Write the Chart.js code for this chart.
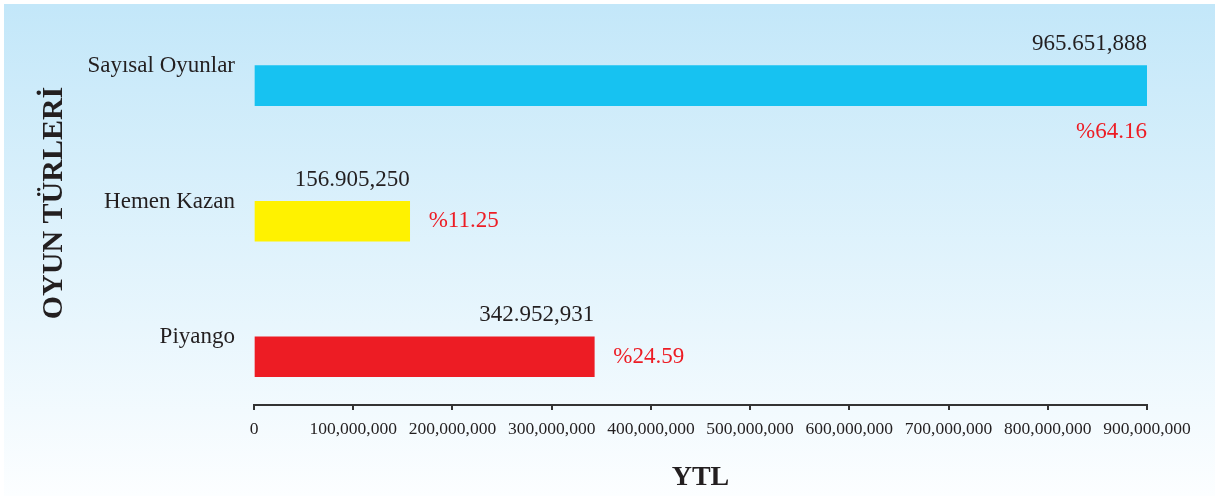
<!DOCTYPE html>
<html>
<head>
<meta charset="utf-8">
<script src="https://cdn.jsdelivr.net/npm/chart.js@4/dist/chart.umd.min.js"></script>
<style>
  html, body { margin: 0; padding: 0; background: #ffffff; }
  canvas { display: block; }
</style>
</head>
<body>
<canvas id="c" width="1215" height="496"></canvas>
<script>
// ---- data ----
const categories = ['Sayısal Oyunlar', 'Hemen Kazan', 'Piyango'];
const values = [965651888, 156905250, 342952931];
const valueLabels = ['965.651,888', '156.905,250', '342.952,931'];
const percentLabels = ['%64.16', '%11.25', '%24.59'];
const barColors = ['#17c2f1', '#fff200', '#ed1c24'];
const xTickValues = [0, 100000000, 200000000, 300000000, 400000000, 500000000, 600000000, 700000000, 800000000, 900000000];
const xTickLabels = ['0', '100,000,000', '200,000,000', '300,000,000', '400,000,000', '500,000,000', '600,000,000', '700,000,000', '800,000,000', '900,000,000'];
const yTitle = 'OYUN TÜRLERİ';
const xTitle = 'YTL';

const SERIF = "'Liberation Serif', 'Times New Roman', serif";
const TEXT = '#231f20';

const bgPlugin = {
  id: 'bg',
  beforeDraw(chart) {
    const ctx = chart.ctx;
    ctx.save();
    ctx.fillStyle = '#ffffff';
    ctx.fillRect(0, 0, chart.width, chart.height);
    const g = ctx.createLinearGradient(0, 4, 0, chart.height);
    g.addColorStop(0, '#c3e7f9');
    g.addColorStop(1, '#fcfeff');
    ctx.fillStyle = g;
    ctx.fillRect(4, 4, chart.width - 4, chart.height - 4);
    ctx.restore();
  }
};

const labelPlugin = {
  id: 'barLabels',
  afterDatasetsDraw(chart, args, opts) {
    const ctx = chart.ctx;
    const meta = chart.getDatasetMeta(0);
    const area = chart.chartArea;
    ctx.save();
    meta.data.forEach((bar, i) => {
      const end = Math.min(bar.x, area.right);
      const top = bar.y - bar.height / 2;
      const bottom = bar.y + bar.height / 2;
      ctx.font = '23px ' + SERIF;
      ctx.textBaseline = 'alphabetic';
      ctx.fillStyle = TEXT;
      ctx.textAlign = 'right';
      ctx.fillText(valueLabels[i], end, top - 15.5);
      ctx.fillStyle = '#ed1c24';
      if (opts.pctPlacement[i] === 'below') {
        ctx.textAlign = 'right';
        ctx.fillText(percentLabels[i], end, bottom + 32);
      } else {
        ctx.textAlign = 'left';
        ctx.fillText(percentLabels[i], end + 19, bar.y + 6);
      }
    });
    ctx.restore();
  }
};

new Chart(document.getElementById('c'), {
  type: 'bar',
  data: {
    labels: categories,
    datasets: [{
      data: values.map((v, i) => ({ x: v, y: i })),
      backgroundColor: barColors,
      borderWidth: 0,
      barThickness: 40,
      clip: 0
    }]
  },
  options: {
    responsive: false,
    animation: false,
    devicePixelRatio: 1,
    indexAxis: 'y',
    layout: { padding: { left: 0, top: 1, right: 68, bottom: 0 } },
    plugins: {
      legend: { display: false },
      tooltip: { enabled: false },
      barLabels: { pctPlacement: ['below', 'right', 'right'] }
    },
    scales: {
      x: {
        type: 'linear',
        position: 'bottom',
        min: 0,
        max: 900000000,
        offset: false,
        afterBuildTicks: (s) => { s.ticks = xTickValues.map(v => ({ value: v })); },
        afterFit: (s) => { s.height = 91; },
        border: { display: true, color: '#333333', width: 2 },
        grid: { drawOnChartArea: false, drawTicks: true, tickLength: 5, color: '#333333', lineWidth: 2, offset: false },
        ticks: {
          padding: 9,
          maxRotation: 0,
          autoSkip: false,
          color: TEXT,
          font: { family: SERIF, size: 17.5 },
          callback: (v, i) => xTickLabels[i]
        },
        title: {
          display: true,
          text: xTitle,
          color: TEXT,
          font: { family: SERIF, size: 28, weight: 'bold' },
          padding: { top: 0, bottom: 1 }
        }
      },
      y: {
        type: 'linear',
        reverse: true,
        offset: false,
        min: -0.625,
        max: 2.356,
        afterBuildTicks: (s) => { s.ticks = categories.map((c, i) => ({ value: i })); },
        afterFit: (s) => { s.width = 254; s.paddingTop = 0; s.paddingBottom = 0; },
        border: { display: false },
        grid: { display: false, drawTicks: false, offset: false },
        ticks: {
          padding: 19,
          labelOffset: -19.5,
          autoSkip: false,
          color: TEXT,
          font: { family: SERIF, size: 23 },
          callback: (v) => categories[v]
        },
        title: {
          display: true,
          text: yTitle,
          color: TEXT,
          font: { family: SERIF, size: 30, weight: 'bold' },
          padding: { top: 36, bottom: 0 }
        }
      }
    }
  },
  plugins: [bgPlugin, labelPlugin]
});
</script>
</body>
</html>
